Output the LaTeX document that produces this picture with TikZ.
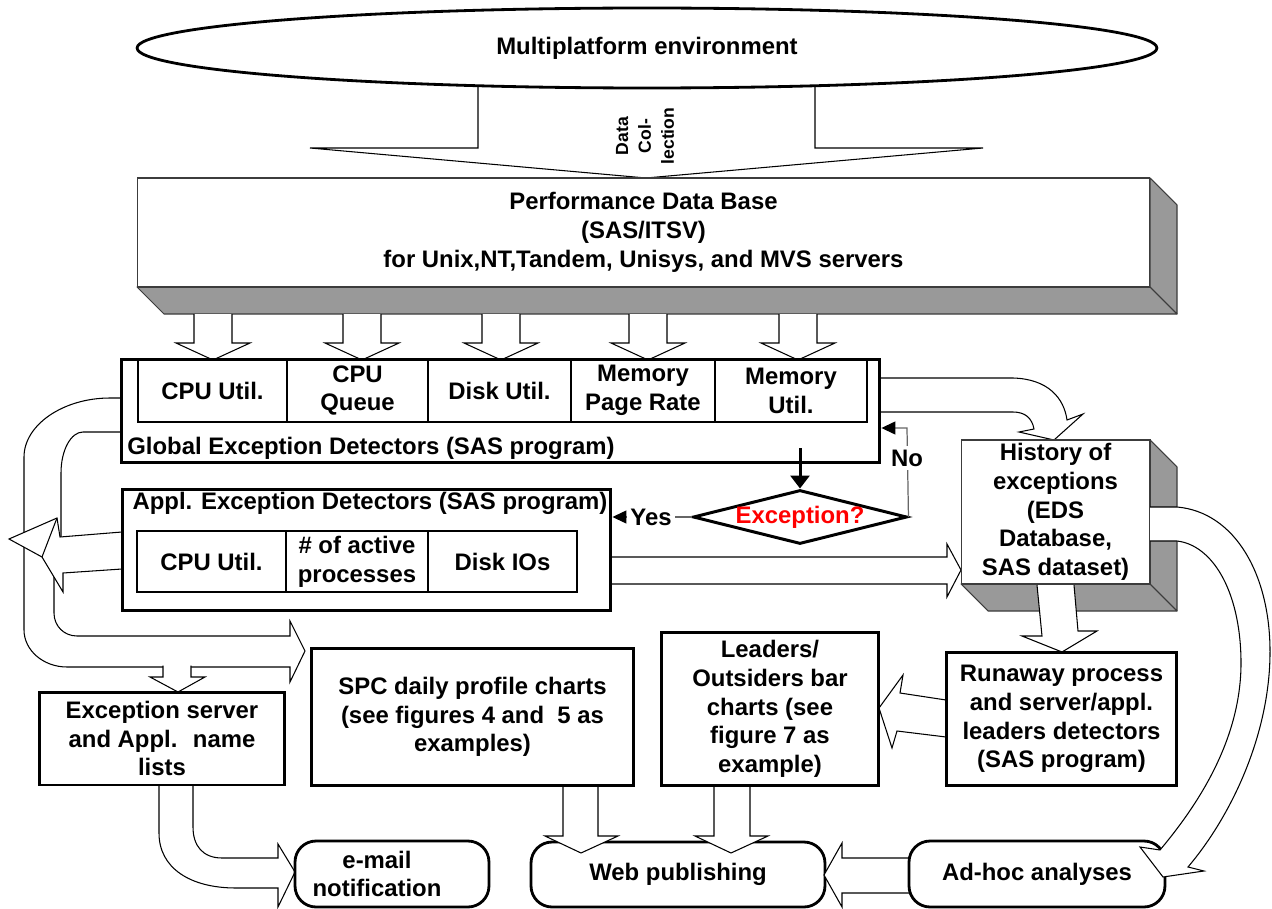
\documentclass[tikz,border=0pt]{standalone}
\usepackage{fontspec}
\setmainfont{Liberation Sans}
\usetikzlibrary{shapes.geometric,arrows.meta}
\definecolor{shade}{RGB}{153,153,153}
\definecolor{edgegray}{RGB}{60,60,60}
\begin{document}
\begin{tikzpicture}[x=0.02cm,y=-0.02cm,
  every node/.style={font=\bfseries\fontsize{13.6}{16.4}\selectfont, inner sep=0pt, align=center},
  blk/.style={draw=black, fill=white, line width=0.6pt, line join=miter},
  thickbox/.style={draw=black, fill=white, line width=1.7pt, rectangle},
  cellbox/.style={draw=black, line width=0.6pt, rectangle},
  roundbox/.style={draw=black, fill=white, line width=1.6pt, rectangle, rounded corners=0.42cm},
  facebox/.style={draw=edgegray, fill=white, line width=0.6pt, rectangle},
  gface/.style={draw=edgegray, fill=shade, line width=0.6pt, line join=round},
  thinlink/.style={draw=black!60, line width=0.7pt},
  linkhead/.style={-{Triangle[length=0.28cm,width=0.26cm,fill=black,color=black]}},
  lab/.style={fill=white, inner sep=2pt},
]
\useasboundingbox (0,0) rectangle (1272,909);

% Data collection arrow and environment
\draw[blk] (478,70) -- (478,148) -- (310,148) -- (646,178) -- (983,148) -- (815,148) -- (815,70);
\node[ellipse, draw, fill=white, line width=1.6pt, minimum width=20.4cm, minimum height=1.6cm] (env) at (647,48) {Multiplatform environment};
\node[font=\bfseries\fontsize{10}{13}\selectfont, rotate=90] (dcol) at (645,136) {Data\\Col-\\lection};

% Performance Data Base (3D box)
\draw[gface] (137,287) -- (1150,287) -- (1177,314) -- (164,314) -- cycle;
\draw[gface] (1150,178) -- (1177,205) -- (1177,314) -- (1150,287) -- cycle;
\node[facebox, minimum width=20.26cm, minimum height=2.18cm] (pdb) at (643.5,232.5) {Performance Data Base\\(SAS/ITSV)\\for Unix,NT,Tandem, Unisys, and MVS servers};

% five small arrows
\foreach \cx in {213,362,501,648,798} {
  \draw[blk] (\cx-19,314) -- (\cx-19,343) -- (\cx-37,343) -- (\cx,360) -- (\cx+37,343) -- (\cx+19,343) -- (\cx+19,314);
}

% big left arrow (Global -> SPC)
\draw[blk] (121,398) -- (110,398) .. controls (63,398) and (24,425) .. (24,457) -- (24,630) .. controls (24,650) and (43,667) .. (67,667) -- (290,667) -- (290,682) -- (305,651) -- (290,621) -- (290,636) -- (77,636) .. controls (64,636) and (54,626) .. (54,613) -- (54,575) -- (61,537) -- (61,473) .. controls (61,450) and (71,432) .. (83,432) -- (121,432);
% left arrow (Appl -> left)
\draw[blk] (122,532) -- (60,537) -- (57,518) -- (9,539) -- (42,557) -- (63,592) -- (63,573) -- (122,569);
\draw[blk, fill=none] (57,518) -- (42,557);
% small arrow into Exception server lists
\draw[blk] (163,665.5) -- (163,677) -- (150,677) -- (178,692) -- (205,677) -- (191,677) -- (191,665.5);

% curved arrow Global -> History
\draw[blk] (881,378) -- (1013,378) .. controls (1048,379) and (1064,398) .. (1067,420) -- (1083,414) -- (1054,440) -- (1019,432) -- (1034,429) .. controls (1032,418) and (1025,412) .. (1013,412) -- (881,412);
% straight arrow Appl -> History
\draw[blk] (611,557) -- (947,557) -- (947,544) -- (961,570) -- (947,597) -- (947,584) -- (611,584);

% Global exception detectors
\node[thickbox, minimum width=15.18cm, minimum height=2.08cm] (glob) at (500.5,411) {};
\node[cellbox, minimum width=2.98cm, minimum height=1.26cm] (g1) at (212.5,390.5) {CPU Util.};
\node[cellbox, minimum width=2.82cm, minimum height=1.26cm] (g2) at (357.5,390.5) {CPU\\Queue};
\node[cellbox, minimum width=2.86cm, minimum height=1.26cm] (g3) at (499.5,390.5) {Disk Util.};
\node[cellbox, minimum width=2.88cm, minimum height=1.26cm] (g4) at (643,390.5) {Memory\\Page Rate};
\node[cellbox, minimum width=3.04cm, minimum height=1.26cm] (g5) at (791,390.5) {Memory\\Util.};
\node[anchor=west] (globt) at (127,448) {Global Exception Detectors (SAS program)};

% Appl exception detectors
\node[thickbox, minimum width=9.78cm, minimum height=2.44cm] (appl) at (366.5,550) {};
\node (applt) at (370,503) {Appl. Exception Detectors (SAS program)};
\node[cellbox, minimum width=2.98cm, minimum height=1.22cm] (a1) at (211.5,561.5) {CPU Util.};
\node[cellbox, minimum width=2.84cm, minimum height=1.22cm] (a2) at (357,561.5) {\# of active\\processes};
\node[cellbox, minimum width=2.98cm, minimum height=1.22cm] (a3) at (502.5,561.5) {Disk IOs};

% decision
\node[diamond, draw, line width=1.7pt, fill=white, minimum width=4.28cm, minimum height=1.08cm] (dia) at (800,517) {};
\node[text=red] (diatxt) at (dia.center) {Exception?};
\coordinate (dstart) at (800,448);
\draw[line width=1.7pt, -{Triangle[length=0.26cm,width=0.38cm]}] (dstart) -- (dia.north);
\coordinate (ncorner) at (907,428);
\draw[thinlink, linkhead] (dia.east) -- (ncorner) -- (ncorner -| glob.east);
\node[lab] (nolab) at (907,458) {No};
\draw[thinlink, linkhead] (dia.west) -- (dia.west -| appl.east);
\node[lab] (yeslab) at (651,517) {Yes};

% History of exceptions (3D box)
\draw[gface] (961,584) -- (1150,584) -- (1177,611) -- (988,611) -- cycle;
\draw[gface] (1150,440) -- (1177,467) -- (1177,611) -- (1150,584) -- cycle;
\node[facebox, minimum width=3.78cm, minimum height=2.88cm] (hist) at (1055.5,512) {History of\\exceptions\\(EDS\\Database,\\SAS dataset)};

% History -> Runaway
\draw[blk] (1037,585) -- (1042,636) -- (1022,636) -- (1062,652) -- (1097,631) -- (1078,631) -- (1074,585);

% Web publishing and arrows into it
\node[roundbox, minimum width=5.88cm, minimum height=1.3cm] (web) at (678,874.5) {Web publishing};
\draw[blk] (563,786) -- (563,836) -- (545,836) -- (581,853) -- (618,836) -- (598,836) -- (598,786);
\draw[blk] (714,786) -- (714,836) -- (695,836) -- (731,853) -- (768,836) -- (750,836) -- (750,786);
\draw[blk] (909,858) -- (842,858) -- (842,843) -- (824,875) -- (842,907) -- (842,893) -- (909,893);
% Runaway -> Leaders
\draw[blk] (946,700) -- (900,693) -- (903,675) -- (879,708) -- (892,748) -- (897,731) -- (946,737);
% Exception lists -> e-mail
\draw[blk] (193,785) -- (193,827) .. controls (193,846) and (203,858) .. (222,858) -- (278,858) -- (278,844) -- (295,872) -- (278,907) -- (278,888) -- (236,888) .. controls (190,888) and (159,868) .. (159,833) -- (159,785);

% boxes
\node[thickbox, minimum width=6.46cm, minimum height=2.76cm] (spc) at (472.5,717) {SPC daily profile charts\\(see figures 4 and~ 5 as\\examples)};
\node[thickbox, minimum width=4.36cm, minimum height=3.08cm] (lead) at (770,709) {Leaders/\\Outsiders bar\\charts (see\\figure 7 as\\example)};
\node[thickbox, minimum width=4.62cm, minimum height=2.68cm] (run) at (1061.5,719) {Runaway process\\and server/appl.\\leaders detectors\\(SAS program)};
\node[roundbox, minimum width=5.12cm, minimum height=1.32cm] (adhoc) at (1037,874) {Ad-hoc analyses};
\node[thickbox, minimum width=4.92cm, minimum height=1.86cm] (exc) at (162,738.5) {Exception server\\and Appl.~ name\\lists};
\node[roundbox, minimum width=3.88cm, minimum height=1.32cm] (email) at (392,874) {};
\node (emailt) at (377,874) {e-mail\\notification};

% History -> Ad-hoc (curved)
\draw[blk] (1150,507) -- (1177,507) .. controls (1235,512) and (1271,575) .. (1270,655) .. controls (1269,735) and (1232,815) .. (1188,867) -- (1204,871) -- (1163,877) -- (1140,847) -- (1160,850) .. controls (1202,800) and (1242,735) .. (1241,660) .. controls (1240,590) and (1212,545) .. (1177,541) -- (1150,541);
\end{tikzpicture}
\end{document}
